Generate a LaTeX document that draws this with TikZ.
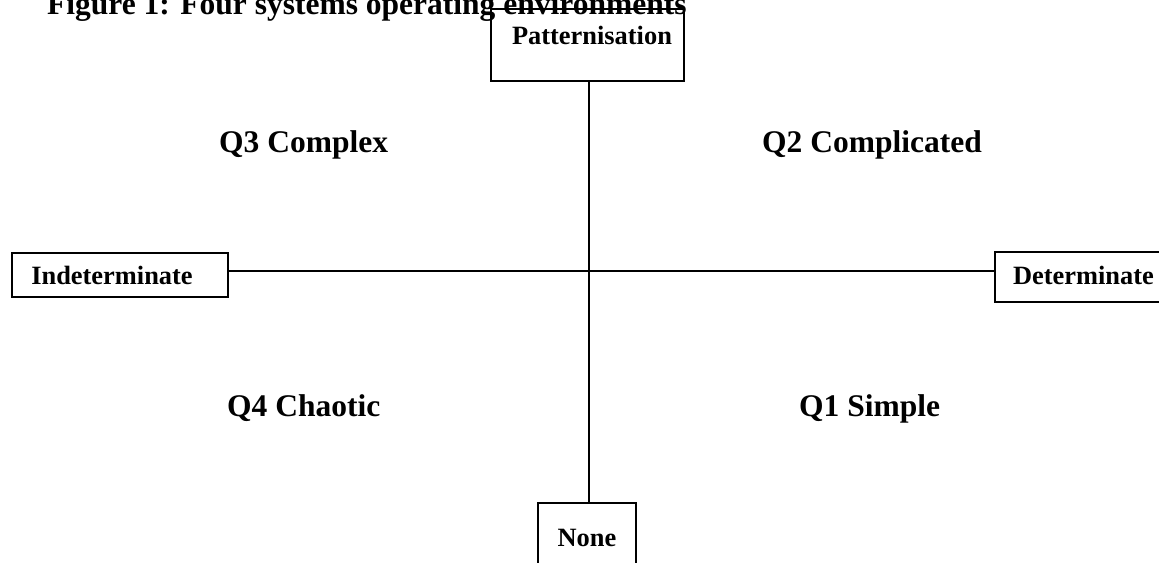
\documentclass[tikz,border=0pt]{standalone}
\usepackage{fontspec}
\setmainfont{Liberation Serif}
\usetikzlibrary{calc}

\begin{document}
\begin{tikzpicture}[x=1bp, y=-1bp,
	axisbox/.style={draw, line width=1.6bp, inner sep=0pt, font=\fontsize{26.4bp}{30bp}\selectfont\bfseries},
	quadlabel/.style={anchor=base west, inner sep=0pt, font=\fontsize{31.5bp}{36bp}\selectfont\bfseries}]
		%%%%% START %%%%%
		
		\useasboundingbox (0, 0) rectangle (1159, 563);
		
		\node[quadlabel] (title) at (47, 15) {Figure 1: Four systems operating environments};
		
		\coordinate (o) at (589, 271);
		
		\node[axisbox, minimum width=193bp, text height=36bp, text depth=36bp] (pat) at (587.5, 45) {\hspace*{9bp}Patternisation};
		\node[axisbox, minimum width=216bp, text height=32bp, text depth=12bp] (indet) at (120, 275) {\hspace*{-16bp}Indeterminate};
		\node[axisbox, minimum width=177bp, text height=33bp, text depth=17bp] (det) at (1083.5, 277) {Determinate};
		\node[axisbox, minimum width=98bp, text height=43bp, text depth=44bp] (none) at (587, 546.5) {None};
		
		\draw[line width=2bp] (pat.south -| o) -- (none.north -| o);
		\draw[line width=2bp] (indet.east |- o) -- (det.west |- o);
		
		\node[quadlabel] (q3) at (219, 153) {Q3 Complex};
		\node[quadlabel] (q2) at (762, 153) {Q2 Complicated};
		\node[quadlabel] (q4) at (227, 416) {Q4 Chaotic};
		\node[quadlabel] (q1) at (799, 416) {Q1 Simple};
		
		%%%%% END %%%%%
	\end{tikzpicture}
\end{document}
